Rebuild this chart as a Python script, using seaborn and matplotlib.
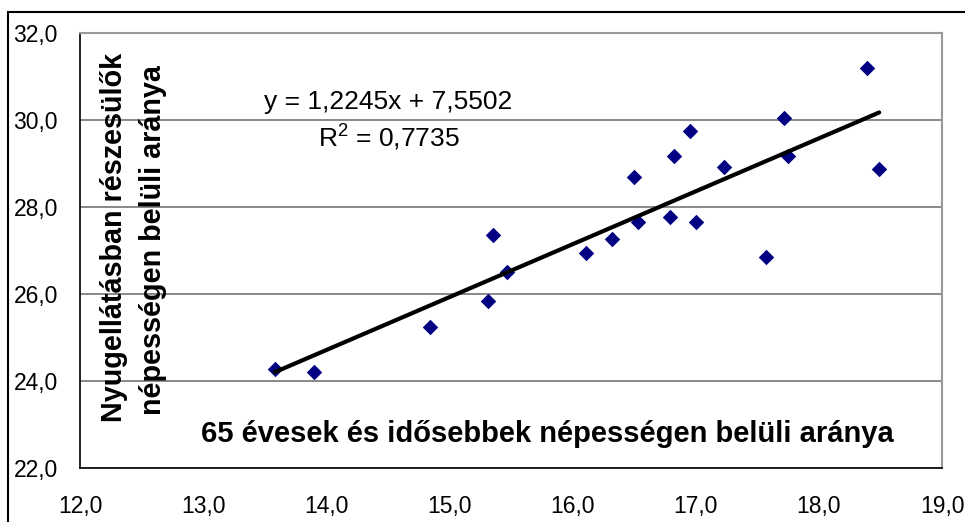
import numpy as np
import pandas as pd
import matplotlib
matplotlib.use("Agg")
import matplotlib.pyplot as plt
import matplotlib.patches as mpatches
import seaborn as sns

# --- data ---
share_65plus = [13.58, 13.90, 14.84, 15.31, 15.35, 15.47, 16.11, 16.32, 16.50, 16.53,
                16.79, 16.82, 16.95, 17.00, 17.23, 17.57, 17.72, 17.75, 18.39, 18.49]
share_pension = [24.26, 24.21, 25.23, 25.83, 27.35, 26.51, 26.94, 27.26, 28.69, 27.66,
                 27.76, 29.18, 29.74, 27.66, 28.91, 26.84, 30.06, 29.18, 31.21, 28.87]
x_ticks = [12.0, 13.0, 14.0, 15.0, 16.0, 17.0, 18.0, 19.0]
y_ticks = [22.0, 24.0, 26.0, 28.0, 30.0, 32.0]
equation_text = "y = 1,2245x + 7,5502"
r2_text = "R$^{2}$ = 0,7735"
x_label = "65 évesek és idősebbek népességen belüli aránya"
y_label_1 = "Nyugellátásban részesülők"
y_label_2 = "népességen belüli aránya"

df = pd.DataFrame({"x": share_65plus, "y": share_pension})

sns.set_theme(style="white")
plt.rcParams["font.family"] = ["Liberation Sans", "DejaVu Sans"]
plt.rcParams["mathtext.fontset"] = "custom"
plt.rcParams["mathtext.rm"] = "Liberation Sans"
plt.rcParams["mathtext.it"] = "Liberation Sans"
plt.rcParams["mathtext.default"] = "rm"

W, H = 965, 522
fig = plt.figure(figsize=(W / 100, H / 100), dpi=100)
left, right, top, bottom = 80, 942, 33.3, 467.5
ax = fig.add_axes([left / W, 1 - bottom / H, (right - left) / W, (bottom - top) / H])

sns.regplot(data=df, x="x", y="y", ax=ax, ci=None, marker="D",
            scatter_kws=dict(s=62, color="#000080", alpha=1, linewidths=0, zorder=3),
            line_kws=dict(color="black", lw=3.0, zorder=4))

ax.set_xlim(12, 19)
ax.set_ylim(22, 32)
ax.set_xticks(x_ticks)
ax.set_yticks(y_ticks)
ax.set_xticklabels([f"{v:.1f}".replace(".", ",") for v in x_ticks])
ax.set_yticklabels([f"{v:.1f}".replace(".", ",") for v in y_ticks])
ax.set_xlabel("")
ax.set_ylabel("")

ax.grid(axis="y", color="#808080", lw=1.3)
ax.grid(axis="x", visible=False)
ax.set_axisbelow(True)

for s in ["top", "right"]:
    ax.spines[s].set_color("#999999")
    ax.spines[s].set_linewidth(1.5)
for s in ["left", "bottom"]:
    ax.spines[s].set_color("#111111")
    ax.spines[s].set_linewidth(1.3)

ax.tick_params(axis="both", labelsize=16.5, colors="black", direction="out")
ax.tick_params(axis="y", length=7, width=1.2, pad=9, color="#111111")
ax.tick_params(axis="x", length=5, width=1.2, pad=15, color="#111111")

def fx(px):
    return (px - left) / (right - left)

def fy(py):
    return 1 - (py - top) / (bottom - top)

ax.text(fx(388.5), fy(109.3), equation_text, transform=ax.transAxes,
        ha="center", va="baseline", fontsize=19, color="black")
ax.text(fx(389), fy(146.7), r2_text, transform=ax.transAxes,
        ha="center", va="baseline", fontsize=19, color="black")

ax.text(fx(547.5), fy(441.7), x_label, transform=ax.transAxes,
        ha="center", va="baseline", fontsize=21, fontweight="bold", color="black")

ax.text(fx(114), fy(237.5), y_label_1, transform=ax.transAxes, rotation=90,
        ha="center", va="center", fontsize=20.7, fontweight="bold", color="black")
ax.text(fx(153), fy(240), y_label_2, transform=ax.transAxes, rotation=90,
        ha="center", va="center", fontsize=20.7, fontweight="bold", color="black")

# outer chart-area frame (cut by the image edges)
frame = mpatches.Rectangle((8 / W, -0.2), 2.0, 1.2 - 12 / H, transform=fig.transFigure,
                           fill=False, edgecolor="black", lw=1.5, clip_on=False)
fig.patches.append(frame)

fig.savefig("out.png", dpi=100)
